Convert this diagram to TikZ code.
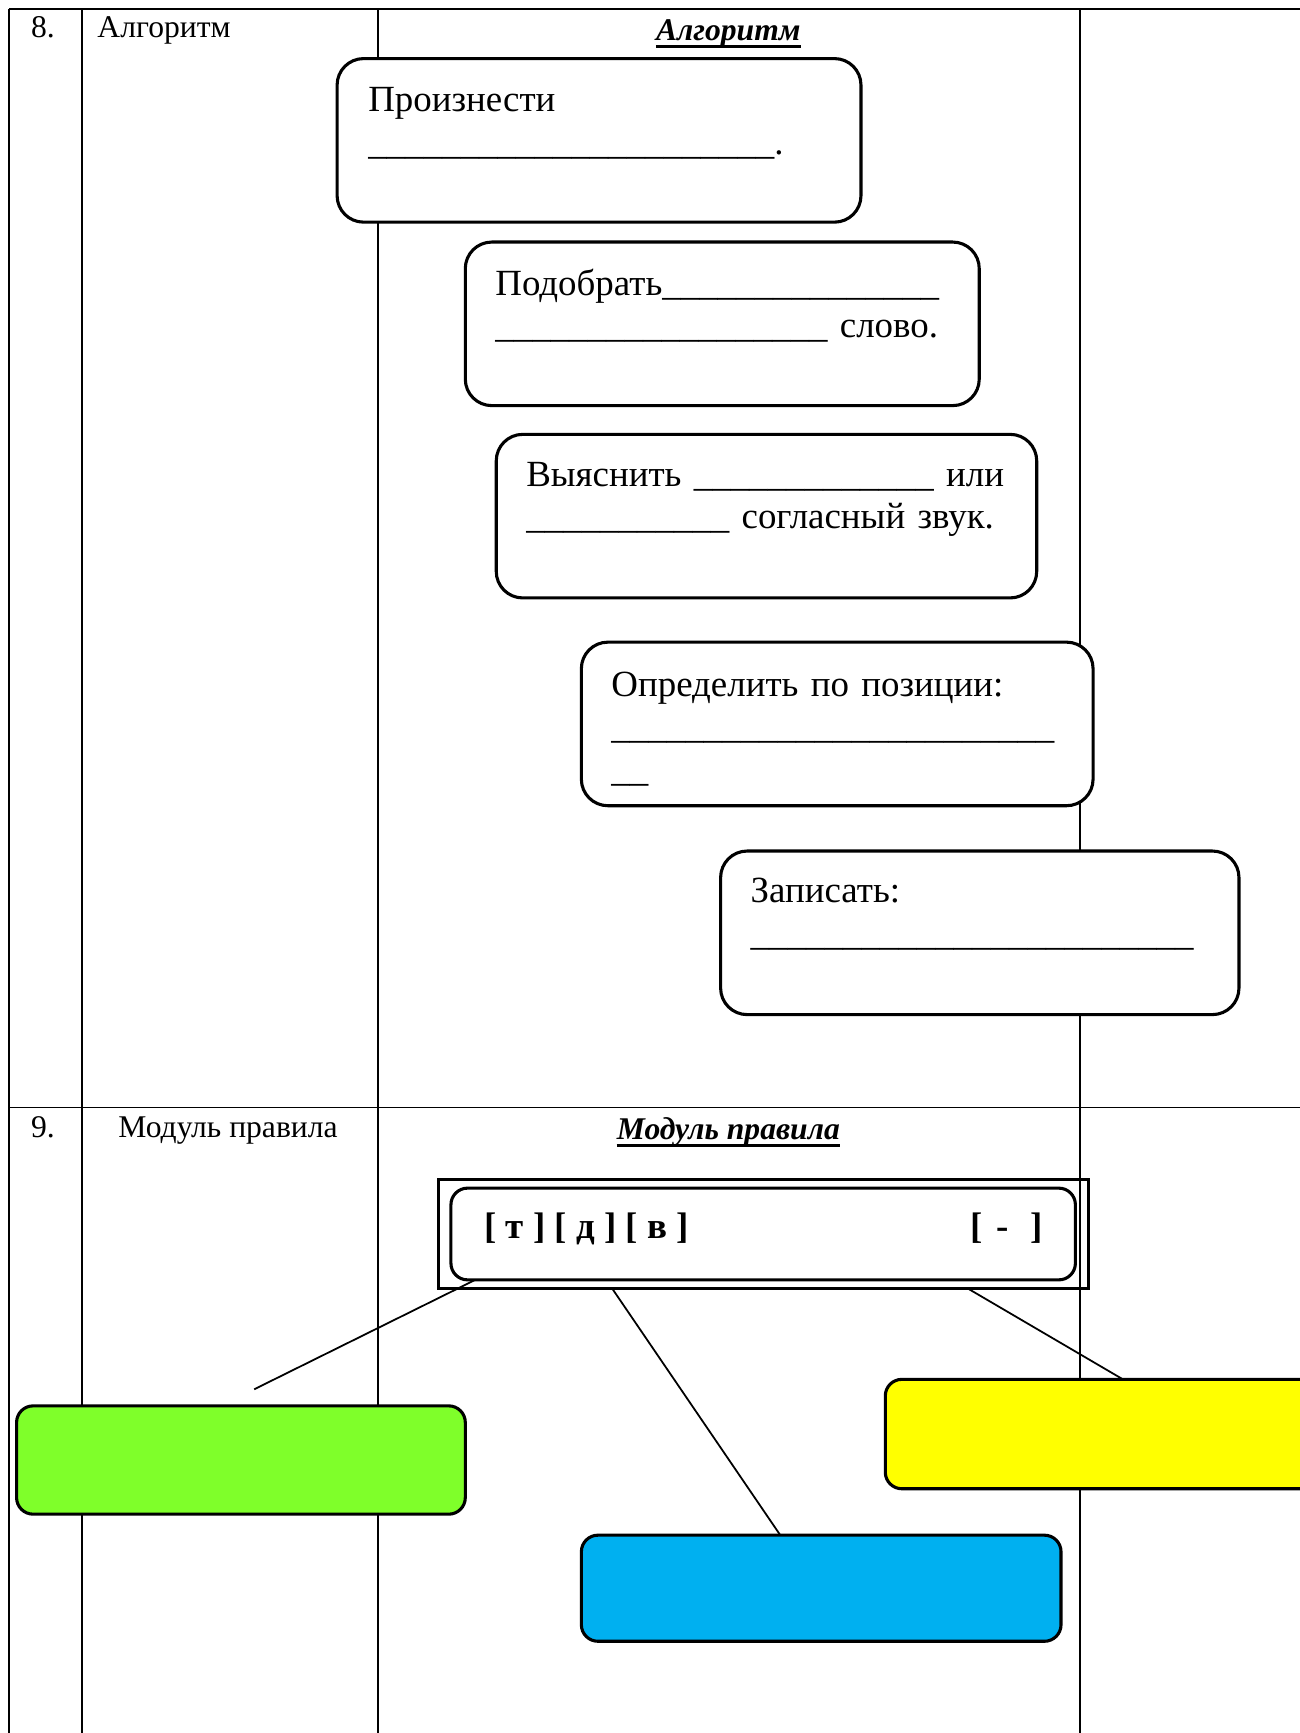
\documentclass[tikz,border=0pt]{standalone}
\usepackage{fontspec}
\setmainfont{Liberation Serif}
\usetikzlibrary{positioning}

\definecolor{lessongreen}{RGB}{127,255,42}
\definecolor{lessonblue}{RGB}{0,176,240}
\definecolor{lessonyellow}{RGB}{255,255,0}

\newcommand\blanks[1]{\foreach\k in {1,...,#1}{\_}}
\newcommand\tabfont{\fontsize{28.6}{34}\selectfont}
\newcommand\stepfont{\fontsize{33.4}{38.5}\selectfont}

\begin{document}
\begin{tikzpicture}[x=1pt,y=-1pt,
                    grid/.style={line width=1.3pt},
                    cell/.style={anchor=base west,inner sep=0pt,font=\tabfont},
                    head/.style={anchor=base,inner sep=0pt,font=\tabfont\bfseries\itshape},
                    stepbox/.style={draw,line width=2.8pt,rounded corners=24pt,fill=white,
                                    anchor=north west,outer sep=0pt,inner sep=0pt,
                                    minimum height=148pt,minimum width=#1},
                    steptext/.style={anchor=base west,inner sep=0pt,font=\stepfont,
                                     align=left,text width=#1},
                    answer/.style={draw,line width=2.8pt,rounded corners=15pt,
                                   anchor=north west,outer sep=0pt,inner sep=0pt}]
  \useasboundingbox (0,0) rectangle (1176,1568);

  % table
  \draw[grid] (8,8) -- (1180,8);
  \draw[grid] (8,1002) -- (1180,1002);
  \foreach \x in {8,74,342,977}
    \draw[grid] (\x,8) -- (\x,1572);

  \node[cell] (n8)   at (28,34)  {8.};
  \node[cell] (alg)  at (88,34)  {Алгоритм};
  \node[head] (algh) at (659,37) {Алгоритм};
  \node[cell] (n9)   at (28,1029)  {9.};
  \node[cell] (mod)  at (107,1029) {Модуль правила};
  \node[head] (modh) at (659,1031) {Модуль правила};
  \draw[line width=2.5pt] ([yshift=1]algh.south west) -- ([yshift=1]algh.south east);
  \draw[line width=2.5pt] ([yshift=1]modh.south west) -- ([yshift=1]modh.south east);

  % algorithm steps
  \node[stepbox=474pt] (s1) at (305,53)  {};
  \node[stepbox=465pt] (s2) at (421,219) {};
  \node[stepbox=489pt] (s3) at (449,393) {};
  \node[stepbox=463pt] (s4) at (526,581) {};
  \node[stepbox=469pt] (s5) at (652,770) {};

  \node[steptext=440pt] at ([shift={(28,48)}]s1.north west)
    {Произнести\\ \blanks{22}.};
  \node[steptext=440pt] at ([shift={(27,48)}]s2.north west)
    {Подобрать\blanks{15}\\ \blanks{18} слово.};
  \node[steptext=460pt] at ([shift={(27,47)}]s3.north west)
    {Выяснить \blanks{13} или\\ \blanks{11} согласный звук.};
  \node[steptext=430pt] at ([shift={(27,49)}]s4.north west)
    {Определить по позиции:\\ \blanks{24}\\ \blanks{2}};
  \node[steptext=440pt] at ([shift={(27,47)}]s5.north west)
    {Записать:\\ \blanks{24}};

  % rule module
  \node[draw,line width=2.8pt,anchor=north west,outer sep=0pt,inner sep=0pt,
        minimum width=588pt,minimum height=99pt] (frame) at (397,1067) {};
  \node[answer,minimum width=565pt,minimum height=83pt] (rule) at (408,1075) {};
  \node[anchor=base west,inner sep=0pt,font=\stepfont\bfseries]
    at ([shift={(30,46)}]rule.north west) {[ т ] [ д ] [ в ]};
  \node[anchor=base west,inner sep=0pt,font=\stepfont\bfseries]
    at ([shift={(470,46)}]rule.north west) {[\hspace{12pt}-\hspace{20pt}]};

  \node[answer,fill=lessongreen,minimum width=406pt,minimum height=98pt]  (green)  at (15,1272)  {};
  \node[answer,fill=lessonblue,minimum width=434pt,minimum height=96pt]   (blue)   at (526,1389) {};
  \node[answer,fill=lessonyellow,minimum width=430pt,minimum height=99pt] (yellow) at (801,1248) {};
  \coordinate (loose) at (230,1257);

  \path[line width=1.6pt]
        ([xshift=22]rule.south west)   edge (loose)
        ([xshift=157]frame.south west) edge ([xshift=180]blue.north west)
        ([xshift=479]frame.south west) edge (yellow.north);
\end{tikzpicture}
\end{document}
